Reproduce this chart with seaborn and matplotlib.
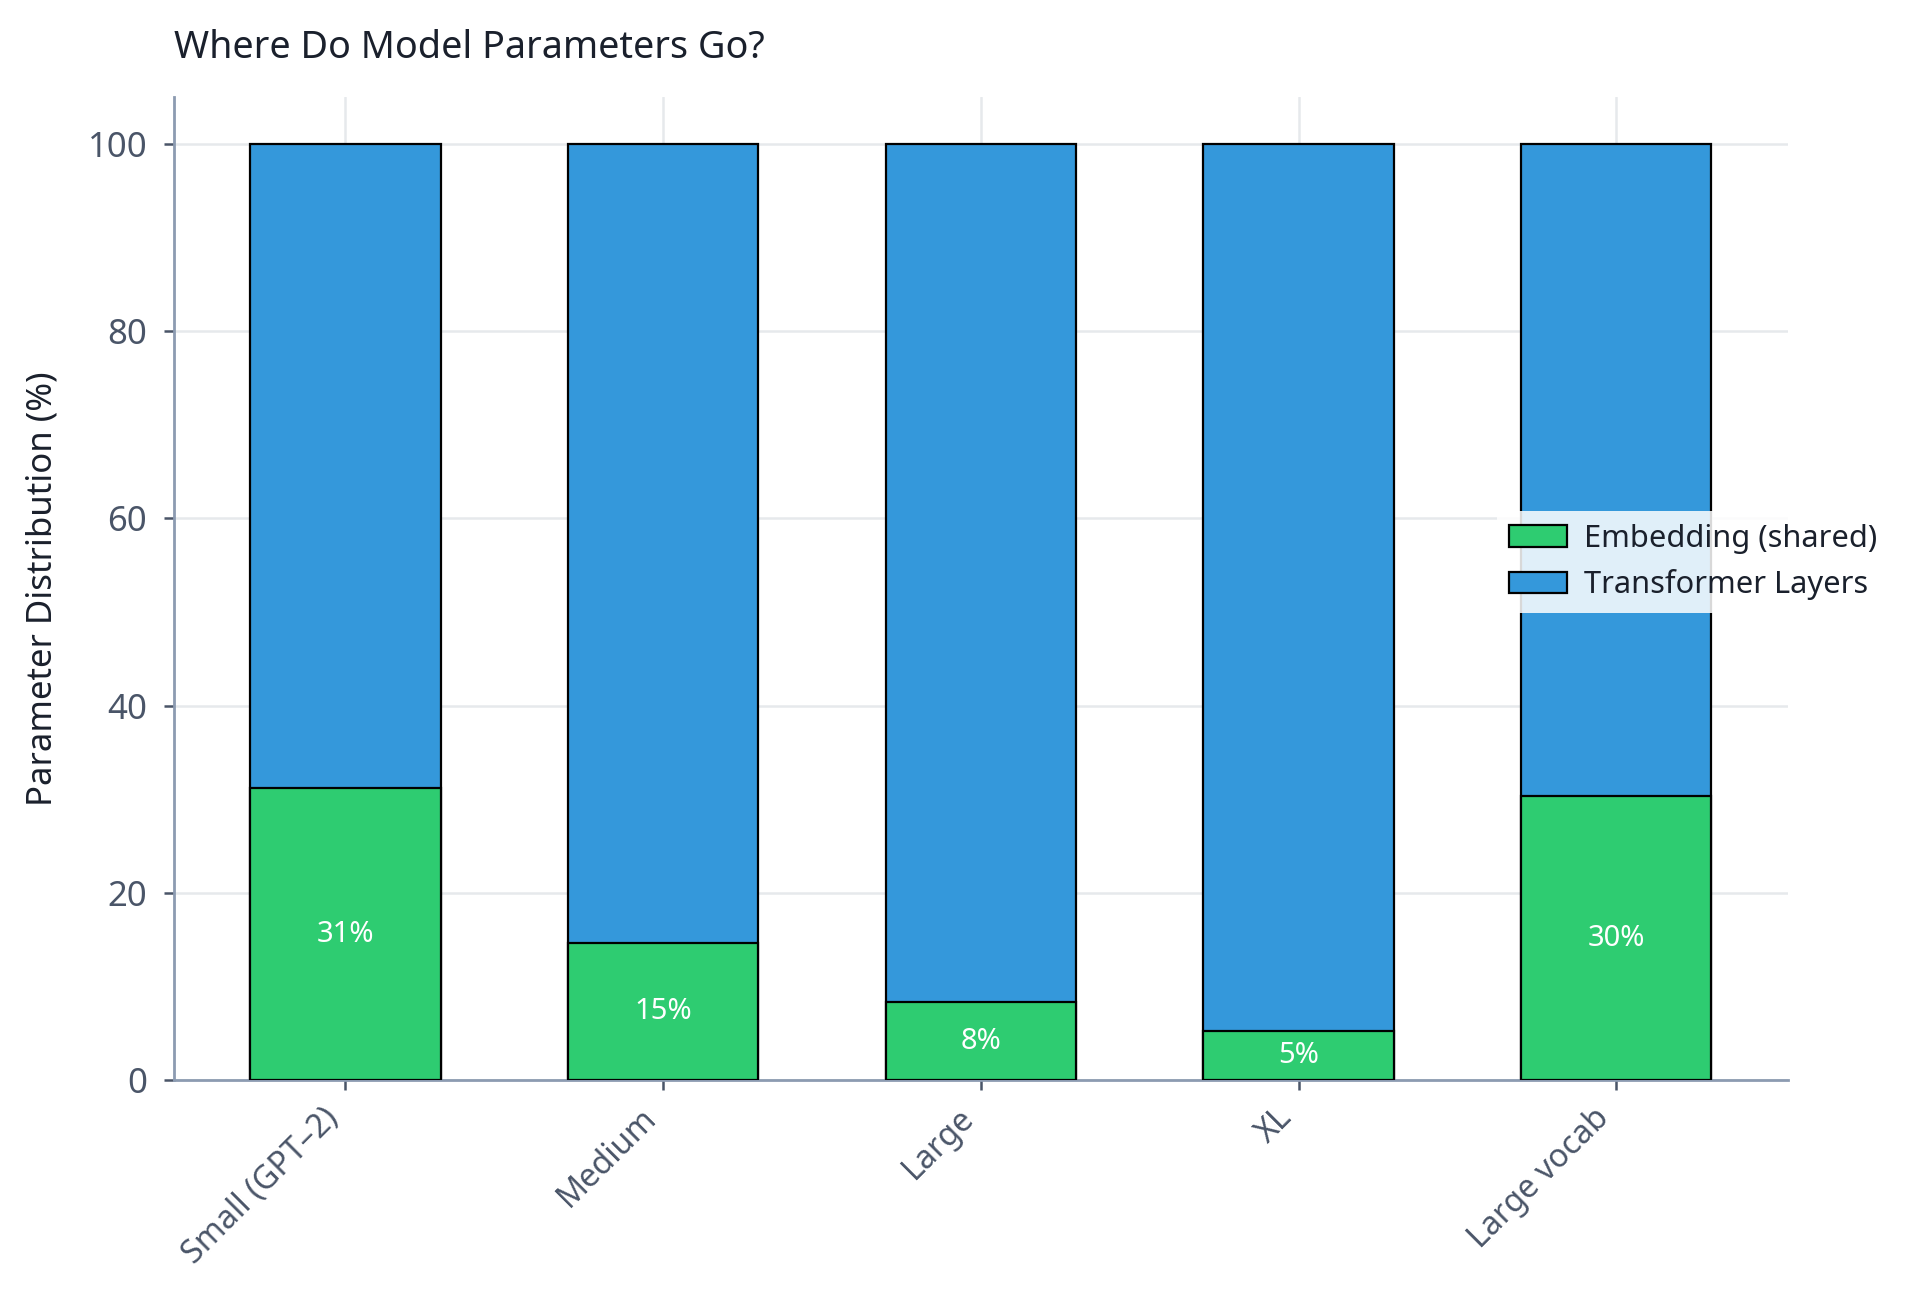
import pandas as pd
import numpy as np
import matplotlib
matplotlib.use("Agg")
import matplotlib.pyplot as plt
import seaborn as sns

models = ["Small (GPT-2)", "Medium", "Large", "XL", "Large vocab"]
embedding_pct = [31.2, 14.6, 8.3, 5.2, 30.3]
transformer_pct = [68.8, 85.4, 91.7, 94.8, 69.7]

green = "#2ecc71"
blue = "#3498db"
spine_col = "#8c9bb1"
tick_col = "#4a5568"
grid_col = "#e6e9ec"
text_col = "#1a202c"

sns.set_theme(style="white")
plt.rcParams["font.family"] = ["Noto Sans", "DejaVu Sans"]

df = pd.DataFrame({
    "model": models,
    "embedding": embedding_pct,
    "transformer": transformer_pct,
})
df["total"] = df["embedding"] + df["transformer"]

fig = plt.figure(figsize=(9.6, 6.515), dpi=200)
ax = fig.add_axes([0.0906, 0.171, 0.8405, 0.7546])

# blue full-height bars first, green embedding share drawn on top
sns.barplot(data=df, x="model", y="total", color=blue, width=0.6,
            edgecolor="black", linewidth=0.8, saturation=1, ax=ax,
            label="Transformer Layers", zorder=2)
sns.barplot(data=df, x="model", y="embedding", color=green, width=0.6,
            edgecolor="black", linewidth=0.8, saturation=1, ax=ax,
            label="Embedding (shared)", zorder=3)

for i, v in enumerate(df["embedding"]):
    ax.text(i, v / 2, f"{v:.0f}%", ha="center", va="center",
            color="white", fontsize=10.5, zorder=4)

ax.set_xlim(-0.54, 4.54)
ax.set_ylim(0, 105)
ax.set_yticks([0, 20, 40, 60, 80, 100])
ax.grid(True, color=grid_col, linewidth=0.9, zorder=0)
ax.set_axisbelow(True)

for s in ["top", "right"]:
    ax.spines[s].set_visible(False)
for s in ["left", "bottom"]:
    ax.spines[s].set_color(spine_col)
    ax.spines[s].set_linewidth(1.0)

ax.tick_params(axis="both", which="both", length=3.6, width=0.9,
               color=tick_col, labelcolor=tick_col,
               left=True, bottom=True)
ax.tick_params(axis="y", labelsize=12.5, pad=6)
ax.tick_params(axis="x", labelsize=11.6, pad=4)
ax.set_xticks(range(len(models)))
ax.set_xticklabels([m.replace("-", "\u2013") for m in models],
                   rotation=45, ha="right")

ax.set_xlabel("")
ax.set_ylabel("Parameter Distribution (%)", fontsize=12.5, color=text_col, labelpad=10)
ax.set_title("Where Do Model Parameters Go?", loc="left", fontsize=13.6,
             color=text_col, pad=14)

handles, labels = ax.get_legend_handles_labels()
order = [labels.index("Embedding (shared)"), labels.index("Transformer Layers")]
leg = ax.legend([handles[k] for k in order], [labels[k] for k in order],
                loc="center left", bbox_to_anchor=(0.81, 0.527),
                fontsize=11.1, frameon=True, framealpha=0.85,
                handlelength=1.9, handletextpad=0.55,
                edgecolor="none", facecolor="white", fancybox=False)
for t in leg.get_texts():
    t.set_color(text_col)

fig.savefig("out.png", dpi=200)
